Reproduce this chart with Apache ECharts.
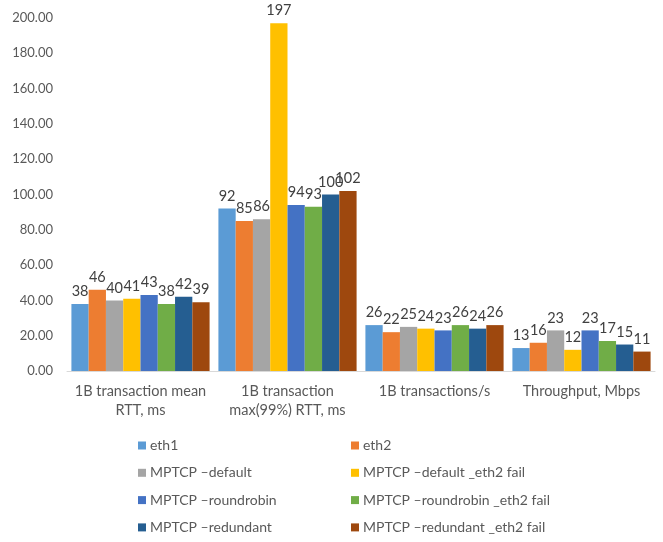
<!DOCTYPE html>
<html>
<head>
<meta charset="utf-8">
<script src="https://cdn.jsdelivr.net/npm/echarts@6/dist/echarts.min.js"></script>
<style>
  html, body { margin: 0; padding: 0; background: #fff; }
  #chart { width: 663px; height: 542px; }
</style>
</head>
<body>
<div id="chart"></div>
<script>
// Metric groups along the x axis
const categories = [
  '1B transaction mean\nRTT, ms',
  '1B transaction\nmax(99%) RTT, ms',
  '1B transactions/s',
  'Throughput, Mbps'
];

// One value per metric for each configuration
const eth1 = [38, 92, 26, 13];
const eth2 = [46, 85, 22, 16];
const mptcpDefault = [40, 86, 25, 23];
const mptcpDefaultFail = [41, 197, 24, 12];
const mptcpRoundrobin = [43, 94, 23, 23];
const mptcpRoundrobinFail = [38, 93, 26, 17];
const mptcpRedundant = [42, 100, 24, 15];
const mptcpRedundantFail = [39, 102, 26, 11];

const seriesNames = [
  'eth1', 'eth2',
  'MPTCP \u2013default', 'MPTCP \u2013default _eth2 fail',
  'MPTCP \u2013roundrobin', 'MPTCP \u2013roundrobin _eth2 fail',
  'MPTCP \u2013redundant', 'MPTCP \u2013redundant _eth2 fail'
];
const seriesData = [
  eth1, eth2, mptcpDefault, mptcpDefaultFail,
  mptcpRoundrobin, mptcpRoundrobinFail, mptcpRedundant, mptcpRedundantFail
];
const colors = [
  '#5B9BD5', '#ED7D31', '#A5A5A5', '#FFC000',
  '#4472C4', '#70AD47', '#255E91', '#9E480E'
];

const yTicks = { min: 0, max: 200, interval: 20 };

const font = 'Lato, "Open Sans", sans-serif';

const chart = echarts.init(document.getElementById('chart'), null, { renderer: 'canvas' });

const legendCommon = {
  orient: 'vertical',
  top: 438,
  height: 104,
  padding: 0,
  itemWidth: 8,
  itemHeight: 8,
  itemGap: 12.3,
  icon: 'rect',
  textStyle: { color: '#595959', fontSize: 14, fontFamily: font, lineHeight: 15, padding: [0, 0, 0, -1] }
};

chart.setOption({
  animation: false,
  color: colors,
  textStyle: { fontFamily: font },
  grid: { left: 67, right: 8, top: 18, bottom: 171, containLabel: false },
  legend: [
    Object.assign({ left: 138, data: [seriesNames[0], seriesNames[2], seriesNames[4], seriesNames[6]] }, legendCommon),
    Object.assign({ left: 351, data: [seriesNames[1], seriesNames[3], seriesNames[5], seriesNames[7]] }, legendCommon)
  ],
  xAxis: {
    type: 'category',
    data: categories,
    axisLine: { lineStyle: { color: '#D9D9D9', width: 1 } },
    axisTick: { show: false },
    axisLabel: { interval: 0, color: '#595959', fontSize: 14.5, fontFamily: font, lineHeight: 19, margin: 11 }
  },
  yAxis: {
    type: 'value',
    min: yTicks.min,
    max: yTicks.max,
    interval: yTicks.interval,
    axisLine: { show: false },
    axisTick: { show: false },
    splitLine: { show: false },
    axisLabel: {
      color: '#595959', fontSize: 13, fontFamily: font, margin: 14,
      formatter: v => v.toFixed(2)
    }
  },
  series: seriesNames.map((name, i) => ({
    name: name,
    type: 'bar',
    data: seriesData[i],
    barGap: '0%',
    barCategoryGap: '6%',
    itemStyle: { color: colors[i] },
    label: {
      show: true,
      position: 'top',
      distance: 5,
      color: '#404040',
      fontSize: 14.5,
      fontFamily: font
    }
  }))
});
</script>
</body>
</html>
